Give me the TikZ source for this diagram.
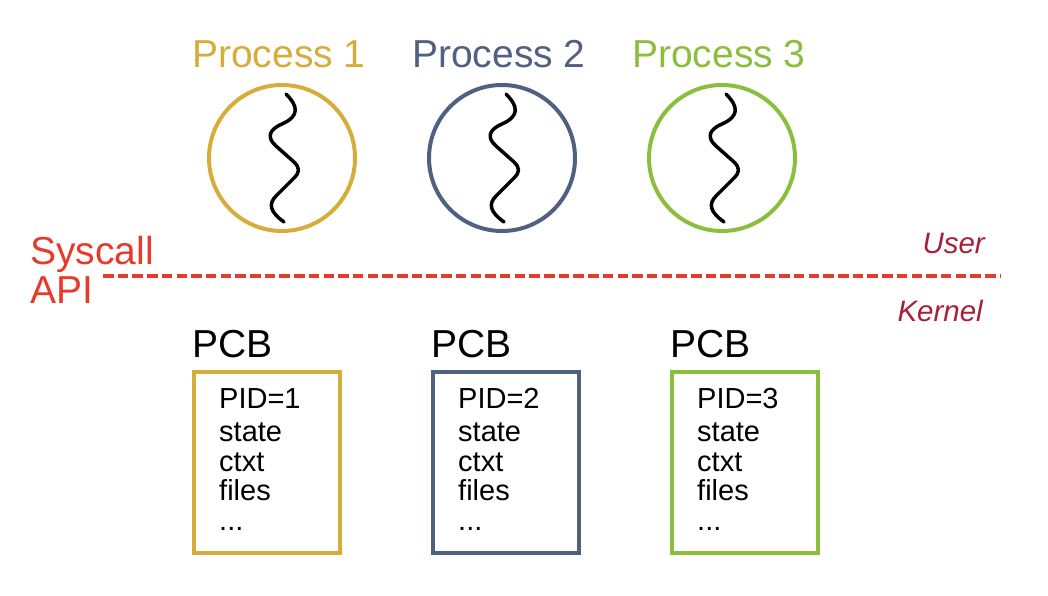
\documentclass[tikz,border=0pt]{standalone}
\usepackage{fontspec}
\setmainfont{Liberation Sans}
\definecolor{cgold}{RGB}{214,172,58}
\definecolor{cblue}{RGB}{80,96,128}
\definecolor{cgreen}{RGB}{140,190,62}
\definecolor{cred}{RGB}{232,58,43}
\definecolor{cdred}{RGB}{166,32,58}
\begin{document}
\begin{tikzpicture}[x=1pt,y=-1pt,
  big/.style={font=\fontsize{39}{39}\selectfont,inner sep=0pt,anchor=base},
  small/.style={font=\fontsize{29}{29}\selectfont,inner sep=0pt,anchor=base west},
  tag/.style={font=\fontsize{29.5}{29.5}\selectfont\itshape,text=cdred,inner sep=0pt,anchor=base east},
  proc/.style={draw=#1,line width=4pt,circle,minimum size=146pt,inner sep=0pt},
  pcb/.style={draw=#1,line width=4pt,rectangle,minimum width=146pt,minimum height=181pt,inner sep=0pt},
  thread/.style={line width=3.5pt,line cap=round,line join=round}
]
\useasboundingbox (0,0) rectangle (1048,596);

% processes
\foreach \i/\x/\c in {1/282/cgold,2/502/cblue,3/722/cgreen}{
  \node[big,text=\c] (t\i) at (\x-3,68) {Process \i};
  \node[proc=\c] (c\i) at (\x,158) {};
  \draw[thread,shift={(c\i.center)}]
    (4,-64) .. controls (16,-52) and (18,-42) .. (0,-34)
    .. controls (-14,-28) and (-15,-20) .. (-6,-12)
    -- (12,4) .. controls (18,10) and (18,14) .. (12,20)
    -- (-6,38) .. controls (-14,46) and (-12,54) .. (2,64);
}

% syscall api
\node[big,text=cred,anchor=base west] (sys) at (30,264) {Syscall};
\node[big,text=cred,anchor=base west] (api) at (30,303) {API};
\coordinate (dl) at (103,276);
\coordinate (dr) at (1000,276);
\draw[cred,line width=3.5pt,dash pattern=on 10.5pt off 4.2pt] (dl) -- (dr);
\node[tag] (user) at (985,253) {User};
\node[tag] (kern) at (983,321) {Kernel};

% PCBs
\foreach \i/\x/\c in {1/192/cgold,2/431/cblue,3/670/cgreen}{
  \node[big,anchor=base west] (p\i) at (\x,357) {PCB};
  \node[pcb=\c,anchor=north west] (b\i) at (\x,369.5) {};
  \node[small] (pid\i) at (\x+27,408) {PID=\i};
  \node[small] (st\i) at (\x+27,441) {state};
  \node[small] (cx\i) at (\x+27,471) {ctxt};
  \node[small] (fi\i) at (\x+27,500) {files};
  \node[small] (dt\i) at (\x+27,530) {...};
}
\end{tikzpicture}
\end{document}
